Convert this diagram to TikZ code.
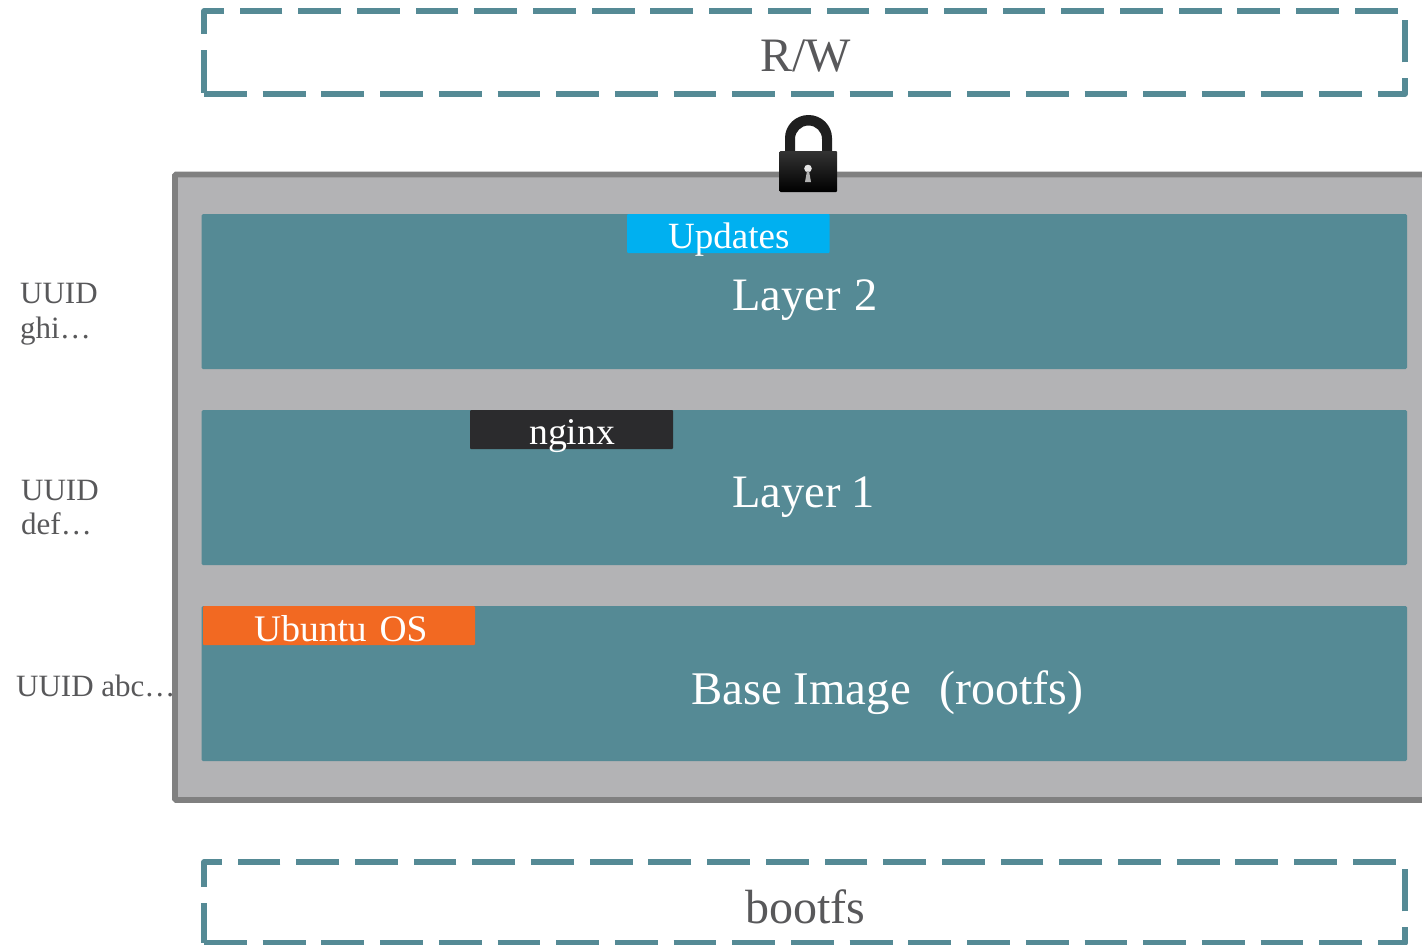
\documentclass[tikz,border=0pt]{standalone}
\usepackage{fontspec}
\setmainfont{Liberation Serif}
\definecolor{teal}{HTML}{558A95}
\definecolor{frame}{HTML}{808080}
\definecolor{panel}{HTML}{B3B3B5}
\definecolor{sky}{HTML}{00B0F0}
\definecolor{ink}{HTML}{2B2B2D}
\definecolor{orange}{HTML}{F26922}
\definecolor{txt}{HTML}{58585A}
\tikzset{
 dashbox/.style={draw=teal,line width=5.2pt,dash pattern=on 42.8pt off 15.9pt,line join=round},
 layer/.style={fill=teal,rounded corners=1.5pt},
 tag/.style={rounded corners=1pt},
 lbl/.style={inner sep=0pt,anchor=base west,font=\fontsize{#1}{#1}\selectfont},
 lbl/.default=46.5,
}
\begin{document}
\begin{tikzpicture}[x=1pt,y=-1pt]
\useasboundingbox (0,0) rectangle (1422,945);
\fill[white] (0,0) rectangle (1422,945);
% dashed boxes
\draw[dashbox] (204,94) -- (1405,94) -- (1405,11) -- (204,11) -- cycle;
\draw[dashbox] (204,943) -- (1405,943) -- (1405,862) -- (204,862) -- cycle;
% gray panel
\draw[fill=panel,draw=frame,line width=5.6pt,rounded corners=1pt] (1440,174.5) -- (175,174.5) -- (175,800) -- (1440,800);
% layers
\fill[layer] (201.5,214) rectangle (1407,369);
\fill[layer] (201.5,410) rectangle (1407,565);
\fill[layer] (201.5,606) rectangle (1407,761);
% tags
\fill[tag,sky] (627,214) rectangle (829.5,253);
\fill[tag,ink] (470,410) rectangle (673,449);
\fill[tag,orange] (203,606) rectangle (475,645);
% lock
\fill[black!88] (785,152) -- (785,138) arc[start angle=180,end angle=360,x radius=23.5,y radius=23] -- (832,152) -- (822,152) -- (822,139) arc[start angle=0,end angle=-180,x radius=13.5,y radius=13.5] -- (795,152) -- cycle;
\shade[top color=black!80,bottom color=black,rounded corners=1pt] (779.5,151) rectangle (837,192);
\fill[white!90!black] (808,168.5) circle[radius=3.8];
\fill[white!70!black] (807,171) -- (809,171) -- (811,182) -- (805,182) -- cycle;
% text
\node[lbl=48,text=txt] (rw) at (760,71) {R/W};
\node[lbl=48,text=txt] (boot) at (745,923) {bootfs};
\node[lbl=37,text=white] (upd) at (668,248) {Updates};
\node[lbl=37.7,text=white] (ngx) at (529,444) {nginx};
\node[lbl=37.5,text=white] (ubu) at (254,641.5) {Ubuntu\hspace{3.5pt} OS};
\node[lbl,text=white] (l2) at (732,310) {Layer\hspace{2.5pt} 2};
\node[lbl,text=white] (l1) at (732,507) {Layer\hspace{-0.5pt} 1};
\node[lbl=46.8,text=white] (base) at (691,704) {Base Image\hspace{17pt} {\fontsize{48}{48}\selectfont (rootfs)}};
\node[lbl=31,text=txt] (u3a) at (20,303) {UUID};
\node[lbl=31,text=txt] (u3b) at (20,338) {ghi…};
\node[lbl=31,text=txt] (u2a) at (21,500) {UUID};
\node[lbl=31,text=txt] (u2b) at (21,534) {def…};
\node[lbl=31,text=txt] (u1) at (16,696) {UUID abc…};
\end{tikzpicture}
\end{document}
